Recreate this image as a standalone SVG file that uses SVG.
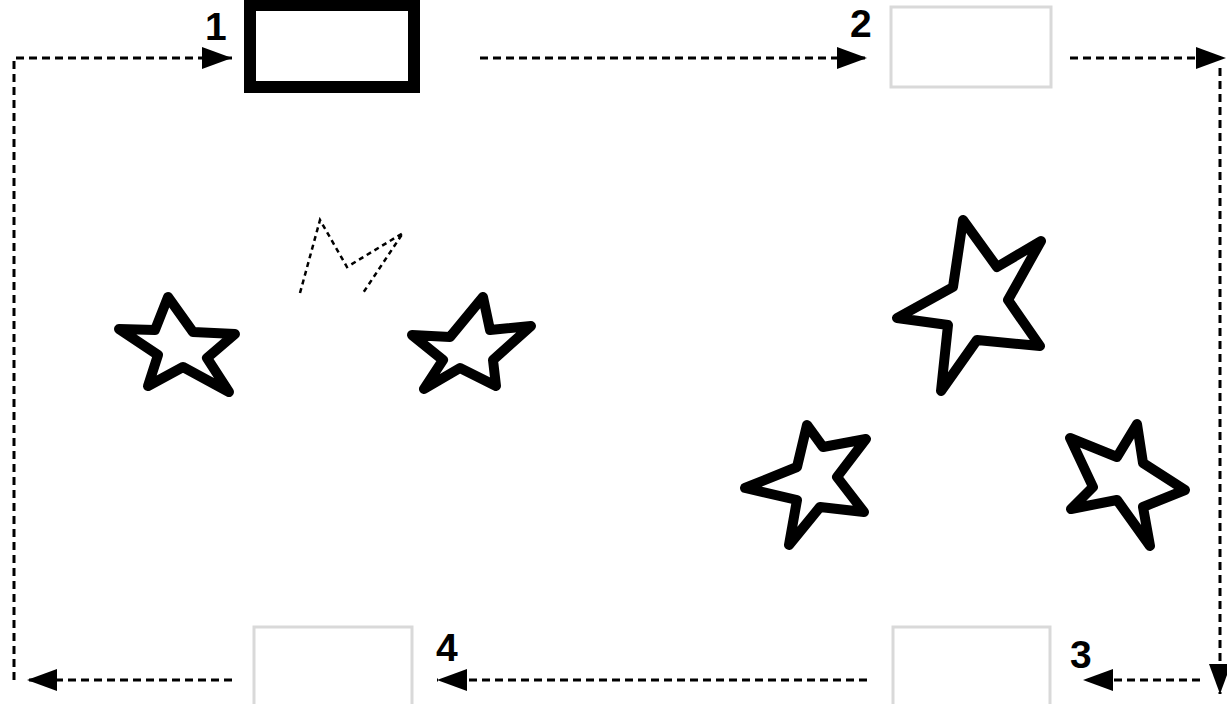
<svg xmlns="http://www.w3.org/2000/svg" width="1227" height="704" viewBox="0 0 1227 704">
<style>
.conn{fill:none;stroke:#000;stroke-width:3;stroke-dasharray:8 5}
.box{fill:#fff;stroke:#d9d9d9;stroke-width:3}
.star{fill:#fff;stroke:#000;stroke-width:10;stroke-linejoin:round;stroke-linecap:round}
.lbl{font-family:"Liberation Sans",Arial,sans-serif;font-weight:bold;font-size:39px;fill:#000}
</style>
<defs>
<marker id="ah" markerUnits="userSpaceOnUse" markerWidth="30" markerHeight="22" refX="30" refY="11" orient="auto">
<path d="M0,0 L30,11 L0,22 z" fill="#000"/>
</marker>
</defs>
<rect width="1227" height="704" fill="#fff"/>
<g id="connectors">
<path class="conn" d="M14,680 V58 H232" marker-end="url(#ah)"/>
<path class="conn" d="M480,58 H867" marker-end="url(#ah)"/>
<path class="conn" d="M1070,58 H1226" marker-end="url(#ah)"/>
<path class="conn" d="M1220,68 V694" marker-end="url(#ah)"/>
<path class="conn" d="M1200,680 H1083" marker-end="url(#ah)"/>
<path class="conn" d="M867,680 H437" marker-end="url(#ah)"/>
<path class="conn" d="M232,680 H27" marker-end="url(#ah)"/>
</g>
<g id="node1">
<rect x="250" y="5" width="164" height="82" fill="#fff" stroke="#000" stroke-width="12"/>
<text class="lbl" x="205" y="40">1</text>
</g>
<g id="node2">
<rect class="box" x="891" y="7" width="160" height="80"/>
<text class="lbl" x="850" y="37">2</text>
</g>
<g id="node3">
<rect class="box" x="893" y="627" width="157" height="90"/>
<text class="lbl" x="1070" y="668">3</text>
</g>
<g id="node4">
<rect class="box" x="254" y="627" width="158" height="90"/>
<text class="lbl" x="436" y="661">4</text>
</g>
<g id="stars">
<path class="star" d="M168,297 L193,332 L235,334 L207,358 L229,392 L183,367 L148,386 L158,355 L119,329 L155,330 Z"/>
<path class="star" d="M483,297 L490,330 L531,326 L493,360 L496,386 L460,368 L424,389 L443,360 L412,335 L450,337 Z"/>
<path class="star" d="M963,220 L997,267 L1041,241 L1008,300 L1040,346 L977,340 L941,391 L948,325 L897,318 L953,287 Z"/>
<path class="star" d="M807,425 L823,447 L866,439 L837,477 L864,512 L820,507 L789,545 L797,500 L745,488 L797,467 Z"/>
<path class="star" d="M1137,424 L1143,463 L1185,490 L1143,507 L1150,546 L1117,500 L1071,509 L1093,487 L1070,438 L1117,457 Z"/>
<path d="M300,293 L320,220 L347,267 L403,233 L363,293" fill="none" stroke="#000" stroke-width="2.5" stroke-dasharray="5 4"/>
</g>
</svg>
